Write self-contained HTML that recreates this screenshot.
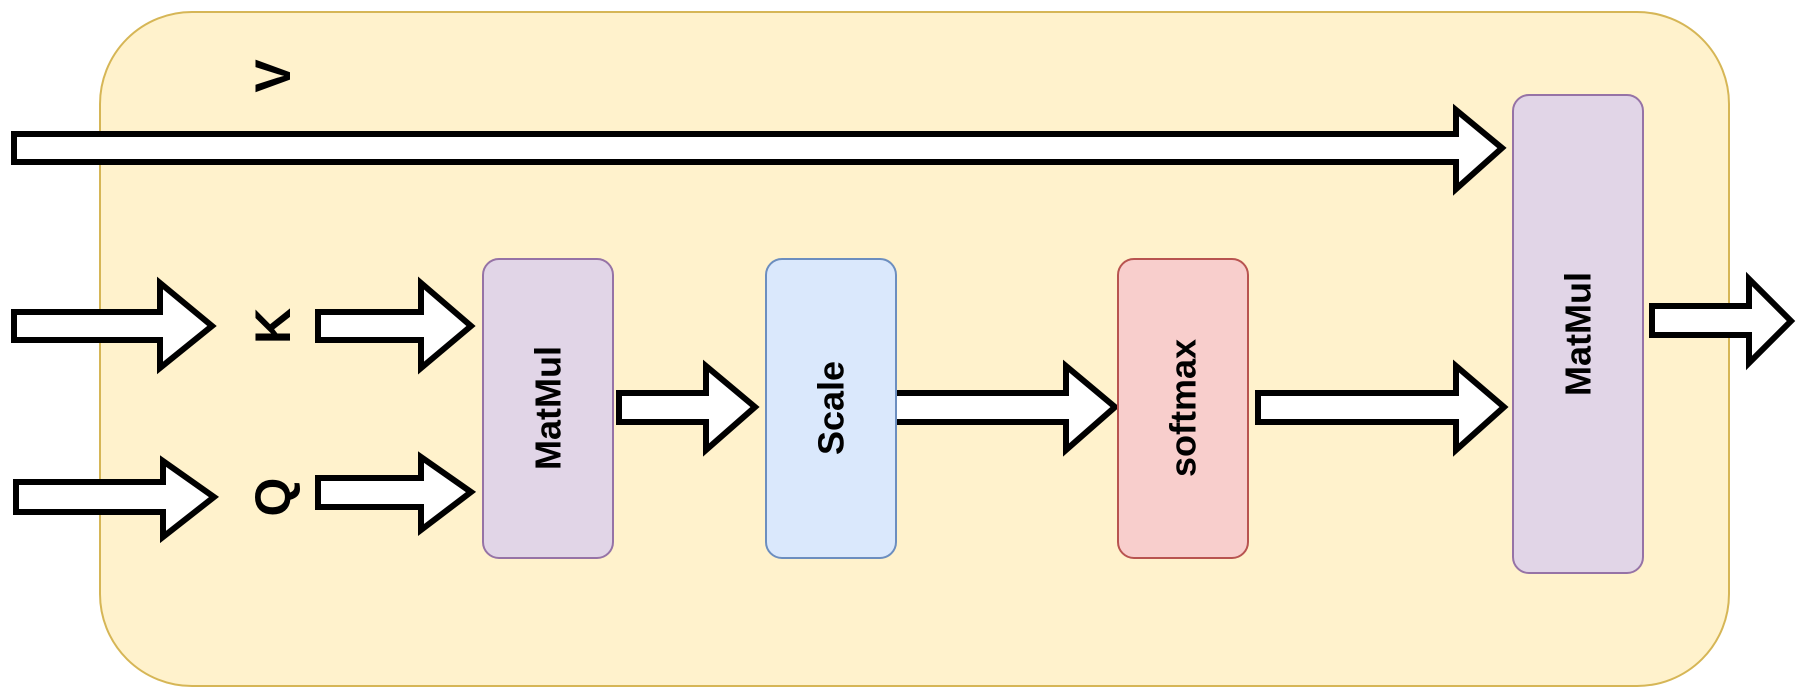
<!DOCTYPE html>
<html><head><style>html,body{margin:0;padding:0;background:#fff}svg{display:block}</style></head>
<body>
<svg width="1798" height="697" viewBox="0 0 1798 697" xmlns="http://www.w3.org/2000/svg">
<rect x="100" y="12" width="1629" height="674" rx="92" fill="#fff2cc" stroke="#d6b656" stroke-width="2"/>
<g fill="#fff" stroke="#000" stroke-width="6">
<path d="M14,134 H1456 V110 L1502,148 L1456,189 V162 H14 Z"/>
<path d="M14,312 H160 V283 L212,326 L160,368 V340 H14 Z"/>
<path d="M318,312 H421 V283 L471,326 L421,368 V340 H318 Z"/>
<path d="M16,482 H163 V461 L214,497 L163,537 V512 H16 Z"/>
<path d="M318,478 H421 V457 L471,492 L421,530 V507 H318 Z"/>
<path d="M619,393 H706 V366 L755,407 L706,450 V422 H619 Z"/>
<path d="M891,393 H1066 V366 L1115,407 L1066,450 V422 H891 Z"/>
<path d="M1258,393 H1456 V366 L1504,407 L1456,450 V422 H1258 Z"/>
<path d="M1652,306 H1749 V279 L1791,321 L1749,363 V335 H1652 Z"/>
</g>
<rect x="483" y="259" width="130" height="299" rx="16" fill="#e1d5e7" stroke="#9673a6" stroke-width="2"/>
<rect x="766" y="259" width="130" height="299" rx="16" fill="#dae8fc" stroke="#6c8ebf" stroke-width="2"/>
<rect x="1118" y="259" width="130" height="299" rx="16" fill="#f8cecc" stroke="#b85450" stroke-width="2"/>
<rect x="1513" y="95" width="130" height="478" rx="16" fill="#e1d5e7" stroke="#9673a6" stroke-width="2"/>
<g font-family="'Comic Sans MS','Liberation Sans',sans-serif" font-weight="bold" fill="#000" text-anchor="middle" dominant-baseline="central">
<text transform="translate(548,408) rotate(-90)" font-size="36">MatMul</text>
<text transform="translate(831,408) rotate(-90)" font-size="36">Scale</text>
<text transform="translate(1183,408) rotate(-90)" font-size="36">softmax</text>
<text transform="translate(1578,334) rotate(-90)" font-size="36">MatMul</text>
<text transform="translate(273,76) rotate(-90)" font-size="50">V</text>
<text transform="translate(273,326) rotate(-90)" font-size="50">K</text>
<text transform="translate(273,497) rotate(-90)" font-size="50">Q</text>
</g>
</svg>
</body></html>
